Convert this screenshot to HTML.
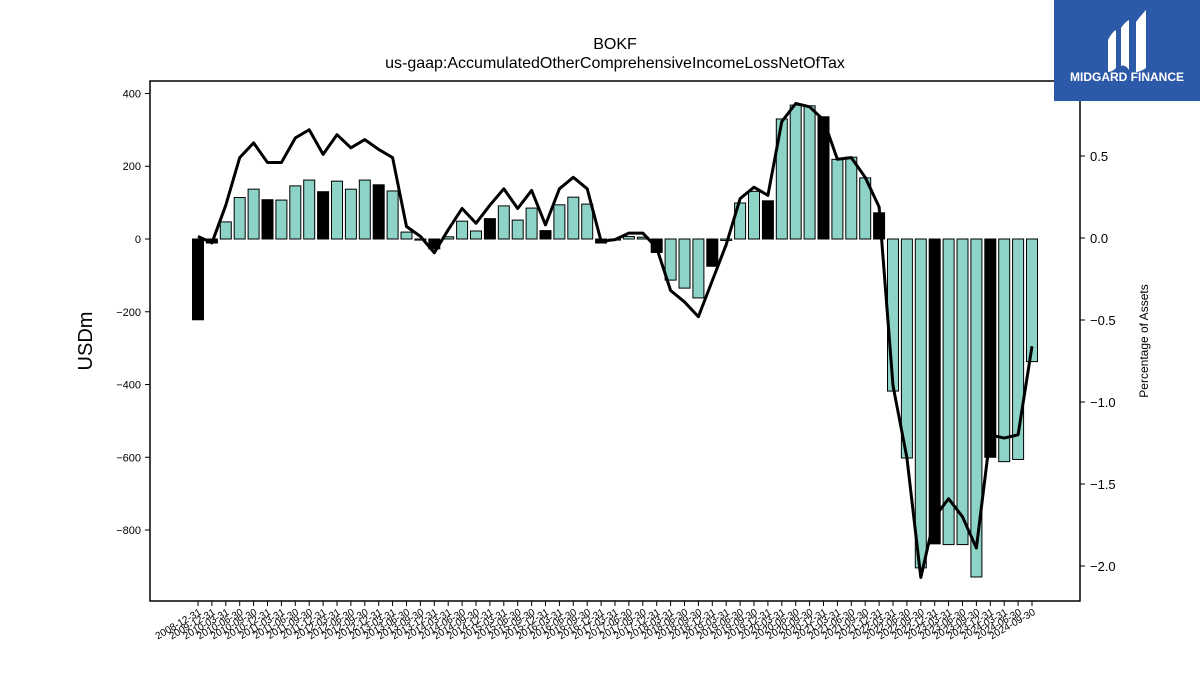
<!DOCTYPE html>
<html><head><meta charset="utf-8"><style>
body{margin:0;background:#fff;}
svg{font-family:"Liberation Sans","DejaVu Sans",sans-serif;display:block}
</style></head><body>
<svg id="chart" width="1200" height="675" viewBox="0 0 1200 675">
<text x="615" y="49" text-anchor="middle" font-size="16">BOKF</text>
<text x="615" y="68" text-anchor="middle" font-size="16">us-gaap:AccumulatedOtherComprehensiveIncomeLossNetOfTax</text>
<g id="bars"></g>
<g id="line"></g>
<rect x="150" y="81" width="930" height="520" fill="none" stroke="#000" stroke-width="1.5"/>
<g id="yl"></g>
<g id="yr"></g>
<g id="xa"></g>
<text transform="translate(92,341) rotate(-90)" text-anchor="middle" font-size="20">USDm</text>
<text transform="translate(1148,341) rotate(-90)" text-anchor="middle" font-size="12">Percentage of Assets</text>
<g>
<rect x="1054" y="0" width="146" height="101" fill="#2d5aa8"/>
<path d="M1108 40 q4-8 8-10 v38 q-4 4-8 4z M1121 28 q4-6 8-8 v50 q-4-6-8-4z M1136 22 q6-8 10-12 v58 q-6 4-10 4z" fill="#fff"/>
<text x="1127" y="81" text-anchor="middle" font-size="12" font-weight="bold" fill="#fff">MIDGARD FINANCE</text>
</g>
</svg>
<script>
const categories=["2008-12-31","2009-12-31","2010-03-31","2010-06-30","2010-09-30","2010-12-31","2011-03-31","2011-06-30","2011-09-30","2011-12-31","2012-03-31","2012-06-30","2012-09-30","2012-12-31","2013-03-31","2013-06-30","2013-09-30","2013-12-31","2014-03-31","2014-06-30","2014-09-30","2014-12-31","2015-03-31","2015-06-30","2015-09-30","2015-12-31","2016-03-31","2016-06-30","2016-09-30","2016-12-31","2017-03-31","2017-06-30","2017-09-30","2017-12-31","2018-03-31","2018-06-30","2018-09-30","2018-12-31","2019-03-31","2019-06-30","2019-09-30","2019-12-31","2020-03-31","2020-06-30","2020-09-30","2020-12-31","2021-03-31","2021-06-30","2021-09-30","2021-12-31","2022-03-31","2022-06-30","2022-09-30","2022-12-31","2023-03-31","2023-06-30","2023-09-30","2023-12-31","2024-03-31","2024-06-30","2024-09-30"];
const values=[-222,-11,47,114,137,108,107,146,162,130,159,137,162,149,132,19,-3,-27,6,49,22,56,91,52,85,23,94,115,96,-11,-3,7,5,-37,-113,-135,-162,-75,-4,99,131,105,330,368,366,336,219,225,168,72,-418,-602,-904,-838,-840,-840,-929,-600,-612,-606,-337];
const pctAssets=[0.01,-0.03,0.20,0.49,0.58,0.46,0.46,0.61,0.66,0.51,0.63,0.55,0.60,0.54,0.49,0.07,0.01,-0.09,0.05,0.18,0.09,0.20,0.30,0.18,0.29,0.08,0.30,0.37,0.30,-0.02,-0.01,0.03,0.03,-0.06,-0.32,-0.39,-0.48,-0.26,-0.04,0.24,0.31,0.26,0.71,0.82,0.80,0.72,0.48,0.49,0.37,0.19,-0.90,-1.34,-2.07,-1.70,-1.59,-1.70,-1.89,-1.20,-1.22,-1.20,-0.66];
const leftTicks=[400,200,0,-200,-400,-600,-800];
const rightTicks=[0.5,0.0,-0.5,-1.0,-1.5,-2.0];
const NS="http://www.w3.org/2000/svg";
const x=i=>198+i*(1032-198)/(categories.length-1);
const y=v=>239-v*0.3638;
const yR=p=>238-p*164;
const bw=11;
function mk(t,a,p){const e=document.createElementNS(NS,t);for(const k in a)e.setAttribute(k,a[k]);p.appendChild(e);return e;}
const bars=document.getElementById('bars');
values.forEach((v,i)=>{
 const q4=categories[i].endsWith("12-31");
 const r=mk('rect',{x:x(i)-bw/2,y:Math.min(y(v),y(0)),width:bw,height:Math.max(Math.abs(y(v)-y(0)),0.5),fill:q4?'#000':'#8dd3c7',stroke:'#000','stroke-width':1},bars);
 
 
});
const lg=document.getElementById('line');
const pl=mk('polyline',{points:pctAssets.map((p,i)=>x(i)+','+yR(p)).join(' '),fill:'none',stroke:'#000','stroke-width':3,'stroke-linejoin':'round'},lg);


const yl=document.getElementById('yl');
leftTicks.forEach(t=>{
 mk('line',{x1:145,x2:150,y1:y(t),y2:y(t),stroke:'#000'},yl);
 const tx=mk('text',{x:141,y:y(t)+4,'text-anchor':'end','font-size':11},yl);
 tx.textContent=(t<0?'\u2212'+(-t):t);
 
 
});
const yr=document.getElementById('yr');
rightTicks.forEach(t=>{
 mk('line',{x1:1080,x2:1085,y1:yR(t),y2:yR(t),stroke:'#000'},yr);
 const tx=mk('text',{x:1090,y:yR(t)+5,'font-size':13},yr);
 tx.textContent=(t<0?'\u2212':'')+Math.abs(t).toFixed(1);
 
 
});
const xa=document.getElementById('xa');
categories.forEach((c,i)=>{
 mk('line',{x1:x(i),x2:x(i),y1:601,y2:606,stroke:'#000'},xa);
 const tx=mk('text',{transform:`translate(${x(i)+4},${614}) rotate(-30)`,'text-anchor':'end','font-size':10},xa);
 tx.textContent=c;
 
 
});
</script>
</body></html>
